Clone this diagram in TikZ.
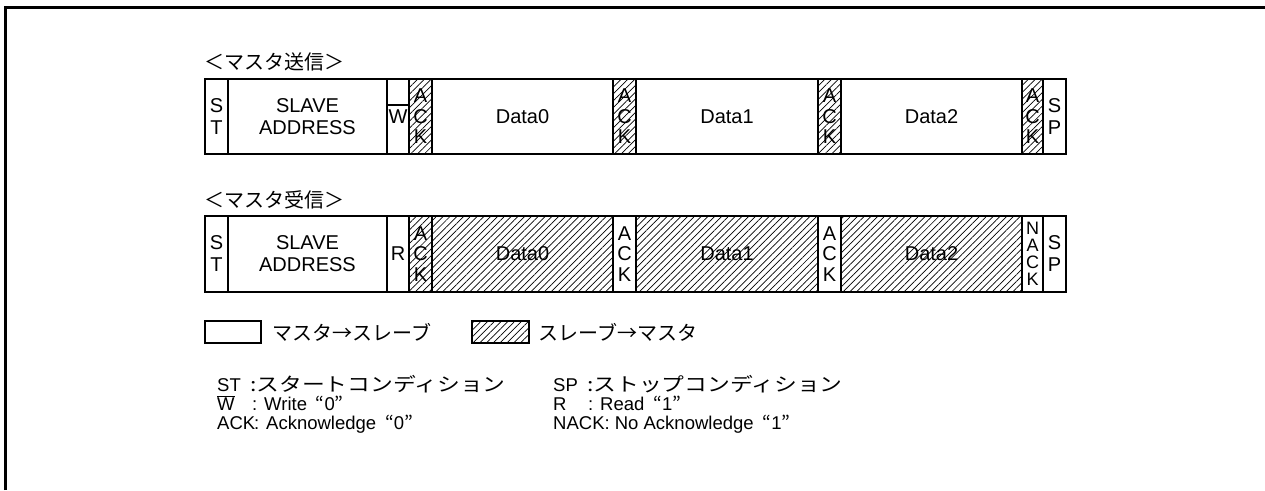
\documentclass[tikz,border=0pt]{standalone}
\usepackage{fontspec}
\setmainfont{Liberation Sans}
\newfontfamily\jp{Noto Sans CJK JP}
\newfontfamily\jpwide[FakeStretch=1.2]{Noto Sans CJK JP}
\usetikzlibrary{patterns.meta}
\newcommand\oq{\makebox[0.95em][r]{\jp “}}
\newcommand\cq{\makebox[0.95em][l]{\jp ”}}
\begin{document}
\begin{tikzpicture}[x=1pt,y=-1pt,
  cell/.style={draw, line width=1.6pt, outer sep=0pt, inner sep=0pt, anchor=north west,
    align=center, font=\fontsize{20}{22}\selectfont},
  stack/.style={font=\fontsize{20}{20.5}\selectfont},
  stack4/.style={font=\fontsize{18}{17}\selectfont},
  hatch/.style={pattern={Lines[angle=45,distance=4.8pt,line width=0.7pt]}},
  head/.style={anchor=west, inner sep=0pt, font=\jp\fontsize{20}{20}\selectfont},
  note/.style={anchor=base west, inner sep=0pt, text height=13pt, text depth=3pt,
    font=\fontsize{18.5}{18.5}\selectfont},
  notejp/.style={anchor=base west, inner sep=0pt, text height=13pt, text depth=3pt,
    font=\jpwide\fontsize{19}{19}\selectfont}]
\useasboundingbox (0,0) rectangle (1265,490);
\draw[line width=3pt] (5.5,490) -- (5.5,7.5) -- (1265,7.5);

% ---------- master transmit ----------
\node[head] (h1) at (204,62) {＜マスタ送信＞};
\node[cell, minimum width=23pt, minimum height=75pt] (st1) at (205,79) {S\\T};
\node[cell, minimum width=159pt, minimum height=75pt] (sa1) at (228,79) {SLAVE\\ADDRESS};
\node[cell, minimum width=22pt, minimum height=75pt] (w1) at (387,79) {};
\node[inner sep=0pt, font=\fontsize{20}{20}\selectfont] (w1t) at (398,116.5) {W};
\draw[line width=1.2pt] (w1.west |- 0,105) -- (w1.east |- 0,105);
\node[cell, hatch, stack, minimum width=23pt, minimum height=75pt] (a1) at (409,79) {A\\C\\K};
\node[cell, minimum width=181pt, minimum height=75pt] (d10) at (432,79) {Data0};
\node[cell, hatch, stack, minimum width=23pt, minimum height=75pt] (a2) at (613,79) {A\\C\\K};
\node[cell, minimum width=182pt, minimum height=75pt] (d11) at (636,79) {Data1};
\node[cell, hatch, stack, minimum width=23pt, minimum height=75pt] (a3) at (818,79) {A\\C\\K};
\node[cell, minimum width=181pt, minimum height=75pt] (d12) at (841,79) {Data2};
\node[cell, hatch, stack, minimum width=21pt, minimum height=75pt] (a4) at (1022,79) {A\\C\\K};
\node[cell, minimum width=23pt, minimum height=75pt] (sp1) at (1043,79) {S\\P};

% ---------- master receive ----------
\node[head] (h2) at (204,200) {＜マスタ受信＞};
\node[cell, minimum width=23pt, minimum height=76pt] (st2) at (205,216) {S\\T};
\node[cell, minimum width=159pt, minimum height=76pt] (sa2) at (228,216) {SLAVE\\ADDRESS};
\node[cell, minimum width=22pt, minimum height=76pt] (r2) at (387,216) {R};
\node[cell, hatch, stack, minimum width=23pt, minimum height=76pt] (b1) at (409,216) {A\\C\\K};
\node[cell, hatch, minimum width=181pt, minimum height=76pt] (d20) at (432,216) {Data0};
\node[cell, stack, minimum width=23pt, minimum height=76pt] (b2) at (613,216) {A\\C\\K};
\node[cell, hatch, minimum width=182pt, minimum height=76pt] (d21) at (636,216) {Data1};
\node[cell, stack, minimum width=23pt, minimum height=76pt] (b3) at (818,216) {A\\C\\K};
\node[cell, hatch, minimum width=181pt, minimum height=76pt] (d22) at (841,216) {Data2};
\node[cell, stack4, minimum width=21pt, minimum height=76pt] (b4) at (1022,216) {N\\A\\C\\K};
\node[cell, minimum width=23pt, minimum height=76pt] (sp2) at (1043,216) {S\\P};

% ---------- legend ----------
\node[cell, minimum width=56pt, minimum height=22pt] (lg1) at (205,321) {};
\node[head] (lt1) at (272,332) {マスタ→スレーブ};
\node[cell, hatch, minimum width=57pt, minimum height=22pt] (lg2) at (472,321) {};
\node[head] (lt2) at (538,332) {スレーブ→マスタ};

% ---------- notes ----------
\node[note] (n1) at (217,391) {ST};
\node[notejp] (n1t) at (250,391) {:スタートコンディション};
\node[note] (n2) at (217,410) {$\overline{\mbox{W}}$};
\node[note] (n2t) at (252,410) {: Write\oq 0\cq};
\node[note] (n3) at (217,429) {ACK};
\node[note] (n3t) at (254,429) {: Acknowledge\oq 0\cq};
\node[note] (n4) at (553,391) {SP};
\node[notejp] (n4t) at (587,391) {:ストップコンディション};
\node[note] (n5) at (553,410) {R};
\node[note] (n5t) at (588,410) {: Read\oq 1\cq};
\node[note] (n6) at (553,429) {NACK: No Acknowledge\oq 1\cq};
\end{tikzpicture}
\end{document}
